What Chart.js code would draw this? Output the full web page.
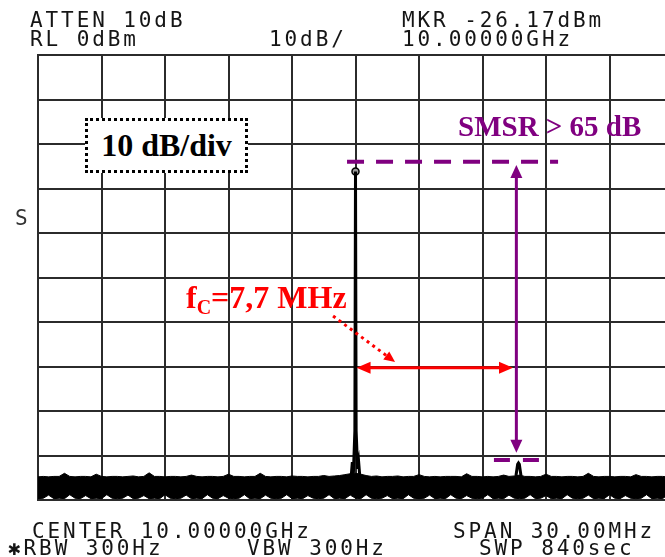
<!DOCTYPE html>
<html>
<head>
<meta charset="utf-8">
<script src="https://cdn.jsdelivr.net/npm/chart.js@4/dist/chart.umd.min.js"></script>
<style>
  html, body { margin: 0; padding: 0; background: #fff; }
  #wrap { position: relative; width: 665px; height: 557px; overflow: hidden; background: #fff; }
  #plot { position: absolute; left: 0; top: 0; }
  .mono { position: absolute; font-family: "DejaVu Sans Mono", monospace; font-size: 21px; line-height: 21px;
          letter-spacing: 2.9px; color: #151515; white-space: pre; }
  .serif { position: absolute; font-family: "Liberation Serif", "Times New Roman", serif; font-weight: bold;
           white-space: pre; }
  #divbox { position: absolute; left: 85px; top: 118px; width: 157px; height: 49px; border: 3px dotted #000;
            background: #fff; display: flex; align-items: center; justify-content: center;
            font-family: "Liberation Serif", "Times New Roman", serif; font-weight: bold; font-size: 32px; color: #000; }
  #smsr { left: 458px; top: 112px; font-size: 29px; line-height: 29px; color: #800080; }
  #fc { left: 186px; top: 281px; font-size: 32px; line-height: 32px; color: #ff0000; }
  #fc sub { font-size: 20px; vertical-align: -6px; line-height: 0; }
</style>
</head>
<body>
<div id="wrap">
  <canvas id="plot" width="683" height="557"></canvas>

  <div class="mono" style="left:30px; top:10px;">ATTEN 10dB</div>
  <div class="mono" style="left:30px; top:29px;">RL 0dBm</div>
  <div class="mono" style="left:269px; top:29px;">10dB/</div>
  <div class="mono" style="left:402px; top:10px;">MKR -26.17dBm</div>
  <div class="mono" style="left:402px; top:29px;">10.00000GHz</div>
  <div class="mono" style="left:15px; top:208px; color:#333;">S</div>
  <div class="mono" style="left:32px; top:521px;">CENTER 10.00000GHz</div>
  <div class="mono" style="left:453px; top:521px;">SPAN 30.00MHz</div>
  <div class="mono" style="left:8px; top:538px;">✱RBW 300Hz</div>
  <div class="mono" style="left:247px; top:538px;">VBW 300Hz</div>
  <div class="mono" style="left:479px; top:538px;">SWP 840sec</div>

  <div id="divbox">10 dB/div</div>
  <div class="serif" id="smsr">SMSR &gt; 65 dB</div>
  <div class="serif" id="fc">f<sub>C</sub>=7,7 MHz</div>
</div>

<script>
// Display settings: frequency offset from the 10 GHz center (MHz) and level (dBm)
const spanMHz = 30;
const refLevel = 0;
const dbPerDiv = 10;
const freqDivs = 10;
const levelDivs = 10;

// Noise floor envelope, sampled every 0.25 MHz from -15 MHz to +15 MHz
const noiseStartMHz = -15;
const noiseStepMHz = 0.25;
const noiseTop = [
  -94.8,-94.7,-94.8,-94.7,-94.7,-94.0,-94.7,-94.8,-94.7,-94.7,
  -94.8,-94.2,-94.7,-94.8,-94.7,-94.7,-94.8,-94.7,-94.6,-94.8,
  -94.7,-93.9,-94.7,-94.7,-94.8,-94.7,-94.7,-94.8,-94.7,-94.4,
  -94.7,-94.8,-94.7,-94.7,-94.8,-94.7,-94.2,-94.7,-94.7,-94.8,
  -94.7,-94.7,-94.0,-94.7,-94.8,-94.7,-94.7,-94.8,-94.6,-94.7,
  -94.7,-94.8,-94.7,-94.7,-94.5,-94.7,-94.6,-94.5,-94.3,-94.1,
  -94.0,
  -94.2,-94.5,-94.7,-94.6,-94.8,-94.7,-94.7,-94.6,-94.8,-94.7,
  -94.7,-94.3,-94.7,-94.8,-94.7,-94.8,-94.7,-94.7,-94.7,-94.8,
  -94.1,-94.7,-94.7,-94.8,-94.7,-94.8,-94.7,-94.4,-94.7,-94.6,
  -94.4,-94.7,-94.7,-94.8,-94.7,-94.2,-94.7,-94.7,-94.8,-94.7,
  -94.7,-94.8,-94.7,-94.0,-94.7,-94.8,-94.7,-94.7,-94.8,-94.7,
  -94.7,-94.8,-94.3,-94.7,-94.7,-94.8,-94.7,-94.7,-94.8,-94.7
];
const noiseBottom = [
  -99.7,-99.6,-98.9,-99.7,-99.6,-99.7,-98.8,-99.6,-99.7,-99.0,
  -99.7,-99.6,-99.7,-98.8,-99.6,-99.7,-99.6,-98.9,-99.7,-99.6,
  -99.0,-99.7,-99.6,-99.7,-98.8,-99.6,-99.7,-99.6,-98.9,-99.7,
  -99.6,-99.7,-98.8,-99.6,-99.7,-99.0,-99.6,-99.7,-99.6,-98.8,
  -99.7,-99.6,-99.7,-98.9,-99.6,-99.7,-99.6,-98.8,-99.7,-99.6,
  -99.7,-99.0,-99.6,-99.7,-99.6,-98.8,-99.7,-99.6,-99.7,-98.9,
  -99.6,
  -99.7,-98.8,-99.6,-99.7,-99.6,-99.0,-99.7,-99.6,-99.7,-98.8,
  -99.6,-99.7,-99.6,-98.9,-99.7,-99.6,-99.7,-98.8,-99.6,-99.7,
  -99.0,-99.6,-99.7,-99.6,-98.8,-99.7,-99.6,-99.7,-98.9,-99.6,
  -99.7,-99.6,-98.8,-99.7,-99.6,-99.0,-99.7,-99.6,-99.7,-98.8,
  -99.6,-99.7,-99.6,-98.9,-99.7,-99.6,-99.7,-98.8,-99.6,-99.7,
  -99.0,-99.6,-99.7,-99.6,-98.8,-99.7,-99.6,-99.7,-98.9,-99.6
];

// Lasing line at the center frequency, with its close-in pedestal
const carrierFreq  = [-0.30, -0.20, -0.15, -0.10, -0.03, 0.00, 0.03, 0.10, 0.15, 0.20, 0.30];
const carrierLevel = [-95.0, -94.5, -91.5, -94.0, -84.5, -26.17, -84.5, -93.0, -91.5, -94.5, -95.0];

// Strongest side mode, 7.7 MHz away from the carrier
const sideFreq  = [7.58, 7.66, 7.70, 7.74, 7.82];
const sideLevel = [-94.6, -92.0, -91.7, -92.0, -94.6];

// Marker reading
const markerFreq = 0;
const markerLevel = -26.17;

const toPoints = (xs, ys) => xs.map((x, i) => ({ x, y: ys[i] }));
const noisePoints = vals => vals.map((v, i) => ({ x: noiseStartMHz + i * noiseStepMHz, y: v }));

// Arrow helper for the annotation layer
function arrowHead(ctx, x0, y0, x1, y1, len, half) {
  const a = Math.atan2(y1 - y0, x1 - x0);
  ctx.beginPath();
  ctx.moveTo(x1, y1);
  ctx.lineTo(x1 - len * Math.cos(a) + half * Math.sin(a), y1 - len * Math.sin(a) - half * Math.cos(a));
  ctx.lineTo(x1 - len * Math.cos(a) - half * Math.sin(a), y1 - len * Math.sin(a) + half * Math.cos(a));
  ctx.closePath();
  ctx.fill();
}

// Measurement annotations (SMSR bracket, mode spacing arrow), placed in data units
const annotations = {
  id: 'annotations',
  afterDatasetsDraw(chart) {
    const { ctx, scales: { x, y } } = chart;
    const purple = '#800080', red = '#ff0000';
    ctx.save();

    // SMSR: dashed reference at the carrier level and at the side-mode level
    ctx.strokeStyle = purple;
    ctx.lineWidth = 4;
    ctx.setLineDash([17, 12]);
    ctx.beginPath();
    ctx.moveTo(x.getPixelForValue(-0.40), y.getPixelForValue(-24.0));
    ctx.lineTo(x.getPixelForValue(9.57), y.getPixelForValue(-24.0));
    ctx.stroke();
    ctx.setLineDash([16, 13]);
    ctx.beginPath();
    ctx.moveTo(x.getPixelForValue(6.54), y.getPixelForValue(-91.0));
    ctx.lineTo(x.getPixelForValue(8.67), y.getPixelForValue(-91.0));
    ctx.stroke();
    ctx.setLineDash([]);

    // SMSR: vertical double arrow
    const ax = x.getPixelForValue(7.6);
    const aTop = y.getPixelForValue(-24.7), aBot = y.getPixelForValue(-89.4);
    ctx.lineWidth = 3;
    ctx.beginPath();
    ctx.moveTo(ax, aTop + 10);
    ctx.lineTo(ax, aBot - 10);
    ctx.stroke();
    ctx.fillStyle = purple;
    arrowHead(ctx, ax, aBot, ax, aTop, 13, 6);
    arrowHead(ctx, ax, aTop, ax, aBot, 13, 6);

    // Mode spacing: horizontal double arrow
    const ry = y.getPixelForValue(-70.3);
    const rL = x.getPixelForValue(0.05), rR = x.getPixelForValue(7.44);
    ctx.strokeStyle = red;
    ctx.fillStyle = red;
    ctx.lineWidth = 3;
    ctx.beginPath();
    ctx.moveTo(rL + 10, ry);
    ctx.lineTo(rR - 10, ry);
    ctx.stroke();
    arrowHead(ctx, rR, ry, rL, ry, 14, 6);
    arrowHead(ctx, rL, ry, rR, ry, 14, 6);

    // Dotted leader from the label
    const dx0 = x.getPixelForValue(-1.06), dy0 = y.getPixelForValue(-58.65);
    const dx1 = x.getPixelForValue(1.87), dy1 = y.getPixelForValue(-69.0);
    const dl = Math.hypot(dx1 - dx0, dy1 - dy0);
    ctx.lineWidth = 3;
    ctx.setLineDash([3, 4]);
    ctx.beginPath();
    ctx.moveTo(dx0, dy0);
    ctx.lineTo(dx1 - 8 * (dx1 - dx0) / dl, dy1 - 8 * (dy1 - dy0) / dl);
    ctx.stroke();
    ctx.setLineDash([]);
    arrowHead(ctx, dx0, dy0, dx1, dy1, 11, 5);

    ctx.restore();
  }
};

const gridColor = '#2b2b2b';

new Chart(document.getElementById('plot'), {
  type: 'line',
  data: {
    datasets: [
      { data: noisePoints(noiseTop), borderColor: '#000', borderWidth: 1, backgroundColor: '#000',
        fill: '+1', pointRadius: 0, tension: 0 },
      { data: noisePoints(noiseBottom), borderColor: '#000', borderWidth: 1, fill: false,
        pointRadius: 0, tension: 0 },
      { data: toPoints(carrierFreq, carrierLevel), borderColor: '#000', borderWidth: 3, fill: false,
        pointRadius: 0, tension: 0 },
      { data: toPoints(sideFreq, sideLevel), borderColor: '#000', borderWidth: 3, fill: false,
        pointRadius: 0, tension: 0 },
      { data: [{ x: markerFreq, y: markerLevel }], showLine: false, pointRadius: 3.5,
        pointStyle: 'circle', pointBorderColor: '#000', pointBorderWidth: 1.5, pointBackgroundColor: '#9a9a9a' }
    ]
  },
  options: {
    responsive: false,
    animation: false,
    devicePixelRatio: 1,
    layout: { padding: { left: 38, top: 55, right: 10, bottom: 57 } },
    plugins: { legend: { display: false }, tooltip: { enabled: false } },
    scales: {
      x: {
        type: 'linear',
        min: -spanMHz / 2, max: spanMHz / 2,
        ticks: { display: false, stepSize: spanMHz / freqDivs },
        grid: { color: gridColor, lineWidth: 2, drawTicks: false },
        border: { display: true, color: gridColor, width: 2 }
      },
      y: {
        min: refLevel - dbPerDiv * levelDivs, max: refLevel,
        ticks: { display: false, stepSize: dbPerDiv },
        grid: { color: gridColor, lineWidth: 2, drawTicks: false },
        border: { display: true, color: gridColor, width: 2 }
      }
    }
  },
  plugins: [annotations]
});
</script>
</body>
</html>
